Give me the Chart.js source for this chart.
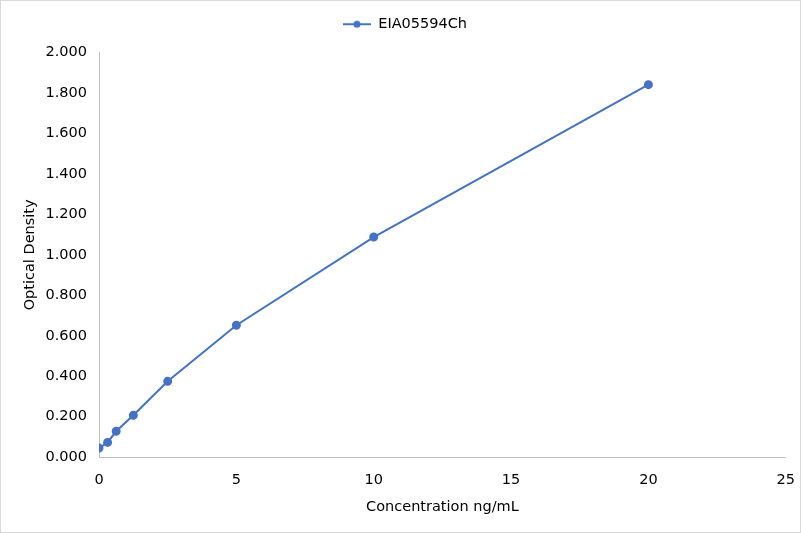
<!DOCTYPE html>
<html>
<head>
<meta charset="utf-8">
<script src="https://cdn.jsdelivr.net/npm/chart.js@4"></script>
<style>
  body { margin: 0; background: #fff; }
  #wrap { width: 801px; height: 533px; }
</style>
</head>
<body>
<div id="wrap"><canvas id="curveChart" width="801" height="533"></canvas></div>
<script>
const seriesName = 'EIA05594Ch';
const concentrations = [0, 0.3125, 0.625, 1.25, 2.5, 5, 10, 20];
const densities = [0.045, 0.073, 0.128, 0.207, 0.375, 0.652, 1.088, 1.841];
const xTicks = [0, 5, 10, 15, 20, 25];
const yTicks = [0, 0.2, 0.4, 0.6, 0.8, 1.0, 1.2, 1.4, 1.6, 1.8, 2.0];

const blue = '#4472C4';
const font = 'DejaVu Sans, sans-serif';
const fontSize = 14.5;

// little line-with-dot marker for the legend
const marker = document.createElement('canvas');
marker.width = 28;
marker.height = 10;
(function() {
    const c = marker.getContext('2d');
    c.strokeStyle = blue;
    c.lineWidth = 2;
    c.beginPath();
    c.moveTo(0, 5);
    c.lineTo(28, 5);
    c.stroke();
    c.fillStyle = blue;
    c.beginPath();
    c.arc(14, 5, 3.5, 0, Math.PI * 2);
    c.fill();
})();

const frame = {
    id: 'frame',
    beforeInit(chart) {
        // push the plot down a bit below the legend
        const fit = chart.legend.fit;
        chart.legend.fit = function() {
            fit.bind(chart.legend)();
            this.height += 11;
        };
    },
    afterDraw(chart) {
        const c = chart.ctx;
        c.save();
        c.strokeStyle = '#d9d9d9';
        c.lineWidth = 1;
        c.strokeRect(0.5, 0.5, chart.width - 1, chart.height - 1);
        c.restore();
    }
};

const points = concentrations.map((x, i) => ({ x: x, y: densities[i] }));

new Chart(document.getElementById('curveChart'), {
    type: 'scatter',
    data: {
        datasets: [{
            label: seriesName,
            data: points,
            showLine: true,
            borderColor: blue,
            backgroundColor: blue,
            borderWidth: 2,
            pointRadius: 3.5,
            pointHoverRadius: 3.5,
            pointStyle: 'circle'
        }]
    },
    options: {
        responsive: false,
        animation: false,
        devicePixelRatio: 1,
        layout: { padding: { left: 22, right: 13, top: 7, bottom: 17 } },
        plugins: {
            legend: {
                display: true,
                position: 'top',
                labels: {
                    usePointStyle: true,
                    pointStyleWidth: 28,
                    color: '#000',
                    font: { family: font, size: fontSize },
                    padding: 10,
                    generateLabels: chart => [{
                        text: seriesName,
                        pointStyle: marker,
                        fillStyle: blue,
                        strokeStyle: blue,
                        lineWidth: 0,
                        datasetIndex: 0
                    }]
                }
            },
            tooltip: { enabled: false }
        },
        scales: {
            x: {
                type: 'linear',
                min: 0,
                max: 25,
                afterBuildTicks: scale => { scale.ticks = xTicks.map(v => ({ value: v })); },
                grid: { display: false },
                border: { display: true, color: '#bfbfbf', width: 1 },
                ticks: {
                    color: '#000',
                    font: { family: font, size: fontSize },
                    padding: 6
                },
                title: {
                    display: true,
                    text: 'Concentration ng/mL',
                    color: '#000',
                    font: { family: font, size: fontSize },
                    padding: { top: 4, bottom: 0 }
                }
            },
            y: {
                type: 'linear',
                min: 0,
                max: 2,
                afterBuildTicks: scale => { scale.ticks = yTicks.map(v => ({ value: v })); },
                afterFit: scale => { scale.width = 77; },
                grid: { display: false },
                border: { display: true, color: '#bfbfbf', width: 1 },
                ticks: {
                    color: '#000',
                    font: { family: font, size: fontSize },
                    padding: 4,
                    callback: v => v.toFixed(3)
                },
                title: {
                    display: true,
                    text: 'Optical Density',
                    color: '#000',
                    font: { family: font, size: fontSize },
                    padding: { top: 0, bottom: 0 }
                }
            }
        }
    },
    plugins: [frame]
});
</script>
</body>
</html>
